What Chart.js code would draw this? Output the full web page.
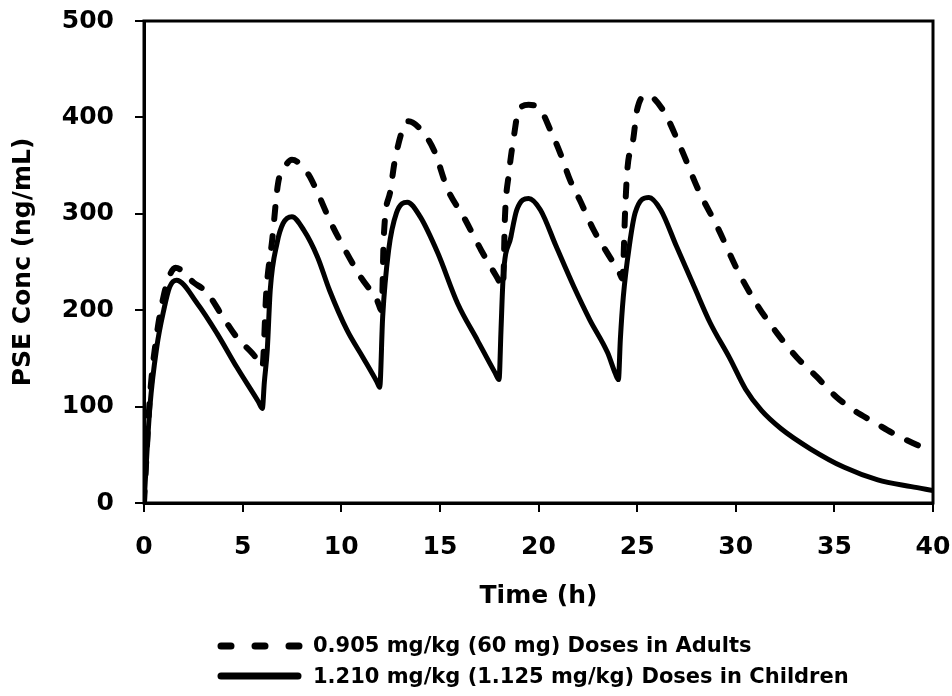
<!DOCTYPE html>
<html>

<head>
    <meta charset="UTF-8">
    <title>PSE Conc</title>
    <script src="https://cdn.jsdelivr.net/npm/chart.js"></script>
    <style>
        body { margin: 0; background: #fff; }
        canvas { display: block; }
    </style>
</head>

<body>
    <canvas id="chart" width="952" height="696"></canvas>

    <script>
        // values (time in h, conc in ng/mL)
        var adultTime = [0, 0.3, 0.65, 1.0, 1.3, 1.6, 2.5, 3.2, 4.0, 4.7, 5.5, 5.85, 6.0, 6.2, 6.5, 6.8, 7.15, 7.5, 8.3, 8.8, 9.4, 10.1, 11.0, 11.8, 12.05,
            12.15, 12.5, 12.75, 13.4, 14.0, 14.7, 15.4, 16.2, 17.1, 17.9, 18.2, 18.3, 18.5, 18.75, 19.0, 19.5, 20.1, 20.6, 21.1, 21.6, 22.1, 22.8, 23.5, 24.1, 24.25,
            24.4, 24.5, 24.8, 25.0, 25.5, 26.3, 27.2, 28.1, 29.1, 30.1, 31.1, 32.1, 33.1, 34.1, 35.1, 36.0, 37.0, 38.0, 39.0, 40];
        var adultConc = [0, 110, 175, 215, 236, 244, 229, 218, 193, 172, 155, 146, 141, 219, 273, 332, 349, 356, 342, 322, 294, 266, 234, 211, 200,
            273, 325, 359, 396, 388, 366, 325, 297, 262, 234, 224, 297, 342, 380, 408, 413, 408, 387, 363, 335, 314, 283, 259, 239, 233,
            307, 345, 377, 408, 423, 408, 369, 325, 285, 241, 205, 176, 151, 131, 110, 96, 84, 72, 62, 53];

        var childTime = [0, 0.3, 0.65, 1.0, 1.3, 1.65, 2.7, 3.7, 4.7, 5.8, 6.0, 6.1, 6.25, 6.4, 6.75, 7.05, 7.5, 8.1, 8.8, 9.4, 10.3, 11.1, 11.8, 11.95,
            12.1, 12.4, 12.8, 13.35, 14.0, 14.9, 15.9, 16.9, 17.8, 18.0, 18.1, 18.2, 18.6, 18.9, 19.5, 20.1, 20.9, 21.8, 22.6, 23.5, 23.9, 24.05,
            24.15, 24.3, 24.6, 24.9, 25.6, 26.2, 27.0, 27.9, 28.7, 29.7, 30.5, 31.3, 32.3, 33.8, 35.5, 37.2, 38.9, 40];
        var childConc = [0, 100, 162, 200, 224, 231, 207, 176, 141, 105, 98, 125, 159, 221, 270, 290, 297, 283, 255, 221, 179, 151, 126, 120,
            193, 262, 301, 312, 297, 259, 207, 169, 135, 128, 180, 231, 276, 304, 316, 304, 266, 224, 190, 156, 134, 128,
            170, 214, 266, 301, 317, 304, 266, 224, 187, 150, 118, 96, 77, 56, 37, 24, 17, 13];

        var seriesLabels = ['0.905 mg/kg (60 mg) Doses in Adults', '1.210 mg/kg (1.125 mg/kg) Doses in Children'];
        var xTicks = [0, 5, 10, 15, 20, 25, 30, 35, 40];
        var yTicks = [0, 100, 200, 300, 400, 500];

        function toPoints(xs, ys) {
            return xs.map(function (x, i) { return { x: x, y: ys[i] }; });
        }

        Chart.defaults.font.family = '"DejaVu Sans", Arial, sans-serif';
        Chart.defaults.font.weight = 'bold';
        Chart.defaults.color = '#000';

        // box round the plot area
        var frame = {
            id: 'frame',
            afterDatasetsDraw: function (chart) {
                var a = chart.chartArea, ctx = chart.ctx;
                ctx.save();
                ctx.strokeStyle = '#000';
                ctx.lineWidth = 3;
                ctx.strokeRect(a.left, a.top, a.right - a.left, a.bottom - a.top);
                ctx.restore();
            }
        };

        // legend stacked under the axis title
        var stackedLegend = {
            id: 'stackedLegend',
            afterDraw: function (chart) {
                var ctx = chart.ctx;
                var rows = [{ y: 646, base: 652 }, { y: 676, base: 683 }];
                ctx.save();
                chart.data.datasets.forEach(function (ds, i) {
                    var r = rows[i];
                    var dashed = ds.borderDash && ds.borderDash.length;
                    ctx.beginPath();
                    ctx.strokeStyle = '#000';
                    ctx.lineWidth = 7;
                    ctx.lineCap = 'round';
                    ctx.setLineDash(dashed ? [10, 24] : []);
                    ctx.moveTo(221, r.y);
                    ctx.lineTo(dashed ? 302 : 298, r.y);
                    ctx.stroke();
                    ctx.setLineDash([]);
                    ctx.fillStyle = '#000';
                    ctx.font = 'bold 21px "DejaVu Sans", Arial, sans-serif';
                    ctx.textBaseline = 'alphabetic';
                    ctx.textAlign = 'left';
                    ctx.fillText(ds.label, 313, r.base);
                });
                ctx.restore();
            }
        };

        new Chart(document.getElementById('chart'), {
            type: 'line',
            data: {
                datasets: [{
                    label: seriesLabels[0],
                    data: toPoints(adultTime, adultConc),
                    borderColor: '#000',
                    borderWidth: 6,
                    borderDash: [12, 17],
                    borderCapStyle: 'round',
                    pointRadius: 0,
                    cubicInterpolationMode: 'monotone',
                    fill: false
                }, {
                    label: seriesLabels[1],
                    data: toPoints(childTime, childConc),
                    borderColor: '#000',
                    borderWidth: 5,
                    pointRadius: 0,
                    cubicInterpolationMode: 'monotone',
                    fill: false
                }]
            },
            options: {
                responsive: false,
                devicePixelRatio: 1,
                animation: false,
                layout: { padding: { left: 0, top: 21, right: 19, bottom: 81 } },
                plugins: {
                    legend: { display: false },
                    tooltip: { enabled: false }
                },
                scales: {
                    x: {
                        type: 'linear',
                        min: 0,
                        max: 40,
                        afterBuildTicks: function (scale) {
                            scale.ticks = xTicks.map(function (v) { return { value: v }; });
                        },
                        afterFit: function (scale) {
                            scale.height = 112;
                            scale.paddingLeft = 0;
                            scale.paddingRight = 0;
                        },
                        grid: { drawOnChartArea: false, drawTicks: true, tickLength: 9, color: '#000', lineWidth: 2 },
                        border: { display: true, color: '#000', width: 3 },
                        ticks: { padding: 20, font: { size: 25, weight: 'bold' }, maxRotation: 0 },
                        title: {
                            display: true,
                            text: 'Time (h)',
                            font: { size: 25, weight: 'bold' },
                            padding: { top: 0, bottom: 4 }
                        }
                    },
                    y: {
                        min: 0,
                        max: 500,
                        afterBuildTicks: function (scale) {
                            scale.ticks = yTicks.map(function (v) { return { value: v }; });
                        },
                        afterFit: function (scale) {
                            scale.width = 144;
                            scale.paddingTop = 0;
                            scale.paddingBottom = 0;
                        },
                        grid: { drawOnChartArea: false, drawTicks: true, tickLength: 9, color: '#000', lineWidth: 2 },
                        border: { display: true, color: '#000', width: 3 },
                        ticks: { padding: 21, font: { size: 25, weight: 'bold' } },
                        title: {
                            display: true,
                            text: 'PSE Conc (ng/mL)',
                            font: { size: 25, weight: 'bold' },
                            padding: { top: 8, bottom: 0 }
                        }
                    }
                }
            },
            plugins: [frame, stackedLegend]
        });
    </script>
</body>

</html>
